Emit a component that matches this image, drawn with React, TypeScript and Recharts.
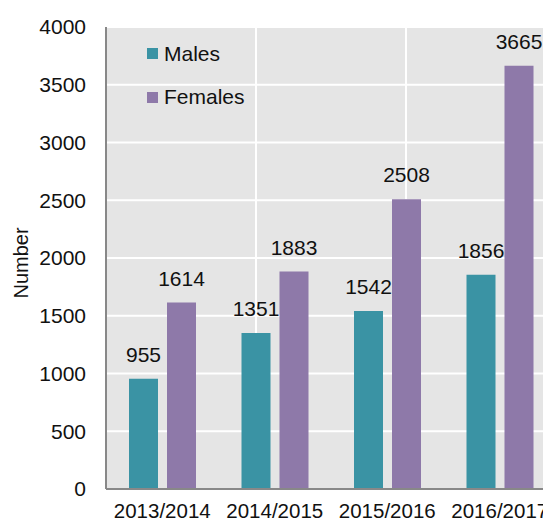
import React from "react";
import {
  BarChart,
  Bar,
  XAxis,
  YAxis,
  CartesianGrid,
  Legend,
  LabelList,
  Label,
} from "recharts";

const years = ["2013/2014", "2014/2015", "2015/2016", "2016/2017"];
const males = [955, 1351, 1542, 1856];
const females = [1614, 1883, 2508, 3665];
const yTicks = [0, 500, 1000, 1500, 2000, 2500, 3000, 3500, 4000];
// category boundaries for the vertical grid lines
const boundaries = [1, 2, 3];

const MALE = "#3a93a4";
const FEMALE = "#8e79a9";
const FONT = "'Liberation Sans', Arial, sans-serif";

const data = years.map((year, i) => ({
  year,
  Males: males[i],
  Females: females[i],
}));

function LegendBox() {
  const items = [
    { name: "Males", color: MALE },
    { name: "Females", color: FEMALE },
  ];
  return (
    <div style={{ fontFamily: FONT }}>
      {items.map((it) => (
        <div
          key={it.name}
          style={{ display: "flex", alignItems: "center", height: 43.5 }}
        >
          <span
            style={{
              width: 11,
              height: 11,
              background: it.color,
              display: "inline-block",
              marginRight: 6,
            }}
          />
          <span style={{ fontSize: 21, color: "#111" }}>{it.name}</span>
        </div>
      ))}
    </div>
  );
}

function YTitle({ viewBox }: any) {
  const x = 28;
  const y = viewBox.y + viewBox.height / 2 + 5;
  return (
    <text
      x={x}
      y={y}
      transform={`rotate(-90 ${x} ${y})`}
      textAnchor="middle"
      fontSize={20}
      fontFamily={FONT}
      fill="#111"
    >
      Number
    </text>
  );
}

export default function App() {
  return (
    <div
      style={{
        position: "absolute",
        left: 0,
        top: 0,
        width: 543,
        height: 522,
        overflow: "hidden",
        background: "#fff",
      }}
    >
      <BarChart
        width={570}
        height={522}
        data={data}
        margin={{ top: 27, right: 14, left: 0, bottom: 0 }}
        barSize={29}
        barGap={9}
      >
        <CartesianGrid
          xAxisId="grid"
          fill="#e5e5e5"
          fillOpacity={1}
          stroke="#ffffff"
          strokeOpacity={1}
          strokeWidth={2}
        />
        <XAxis
          xAxisId="grid"
          type="number"
          domain={[0, 4]}
          ticks={boundaries}
          hide
        />
        <XAxis
          dataKey="year"
          height={33}
          tickLine={false}
          tickSize={6}
          tickMargin={8}
          axisLine={{ stroke: "#888888", strokeWidth: 2 }}
          tick={{ fontSize: 20.5, fill: "#111", fontFamily: FONT }}
          interval={0}
        />
        <YAxis
          width={106}
          domain={[0, 4000]}
          ticks={yTicks}
          tickLine={false}
          tickSize={6}
          tickMargin={14}
          axisLine={{ stroke: "#888888", strokeWidth: 2 }}
          tick={{ fontSize: 21, fill: "#111", fontFamily: FONT }}
        >
          <Label content={<YTitle />} />
        </YAxis>
        <Legend
          verticalAlign="middle"
          layout="horizontal"
          content={<LegendBox />}
          wrapperStyle={{ position: "absolute", left: 147, top: 32, width: "auto" }}
        />
        <Bar dataKey="Males" fill={MALE} isAnimationActive={false}>
          <LabelList
            dataKey="Males"
            position="top"
            offset={17}
            style={{ fontSize: 21, fill: "#111", fontFamily: FONT }}
          />
        </Bar>
        <Bar dataKey="Females" fill={FEMALE} isAnimationActive={false}>
          <LabelList
            dataKey="Females"
            position="top"
            offset={17}
            style={{ fontSize: 21, fill: "#111", fontFamily: FONT }}
          />
        </Bar>
      </BarChart>
    </div>
  );
}
